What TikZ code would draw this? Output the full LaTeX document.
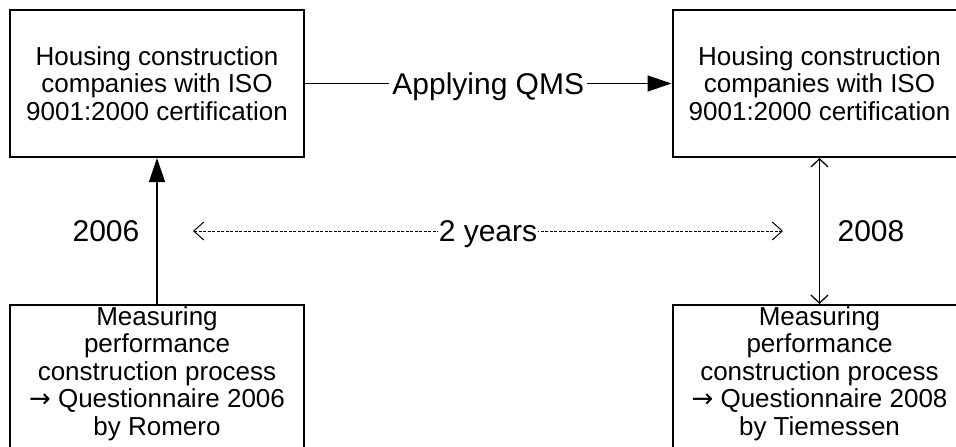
\documentclass[tikz,border=0pt]{standalone}
\usepackage{fontspec}
\setmainfont{Liberation Sans}
\newfontfamily\arrowfont{DejaVu Sans}
\usetikzlibrary{arrows.meta,positioning}
\newcommand{\toarrow}{{\arrowfont →}}
\begin{document}
\begin{tikzpicture}[x=1pt,y=-1pt,
  box/.style={draw,line width=2pt,minimum width=294pt,minimum height=147pt,
    inner sep=0pt,align=center,font=\fontsize{26}{27.5}\selectfont},
  lowbox/.style={box,minimum height=160pt,text depth=28.6pt},
  lbl/.style={font=\fontsize{30}{32}\selectfont,inner sep=1pt,text depth=0pt},
  link/.style={line width=1.3pt},
  span/.style={line width=1pt,dash pattern=on 3pt off 1.5pt}]
  \useasboundingbox (0,0) rectangle (956,447);
  % Unternehmen
  \node[box] (firm06) at (157,83.5) {Housing construction\\companies with ISO\\9001:2000 certification};
  \node[box] (firm08) at (819.5,83.5) {Housing construction\\companies with ISO\\9001:2000 certification};
  % Messungen
  \node[lowbox] (meas06) at (157,385) {Measuring\\performance\\construction process\\\toarrow{} Questionnaire 2006\\by Romero};
  \node[lowbox] (meas08) at (819.5,385) {Measuring\\performance\\construction process\\\toarrow{} Questionnaire 2008\\by Tiemessen};
  % Verbindungen
  \draw[link,-{Triangle[length=24pt,width=16pt]}] (firm06) -- node[lbl,fill=white,inner sep=3pt] {Applying QMS} (firm08);
  \draw[link,-{Triangle[length=24pt,width=16pt]}] (meas06) -- (firm06);
  \draw[link,{Straight Barb[length=8pt,width=17pt]}-{Straight Barb[length=8pt,width=17pt]}] (firm08) -- (meas08);
  % Zeitraum
  \coordinate (span06) at (193,231);
  \coordinate (span08) at (783,231);
  \draw[span,{Straight Barb[length=10pt,width=18pt]}-{Straight Barb[length=10pt,width=18pt]}] (span06) -- node[lbl,fill=white] {2 years} (span08);
  \node[lbl] (yr06) at (106,231) {2006};
  \node[lbl] (yr08) at (871,231) {2008};
\end{tikzpicture}
\end{document}
